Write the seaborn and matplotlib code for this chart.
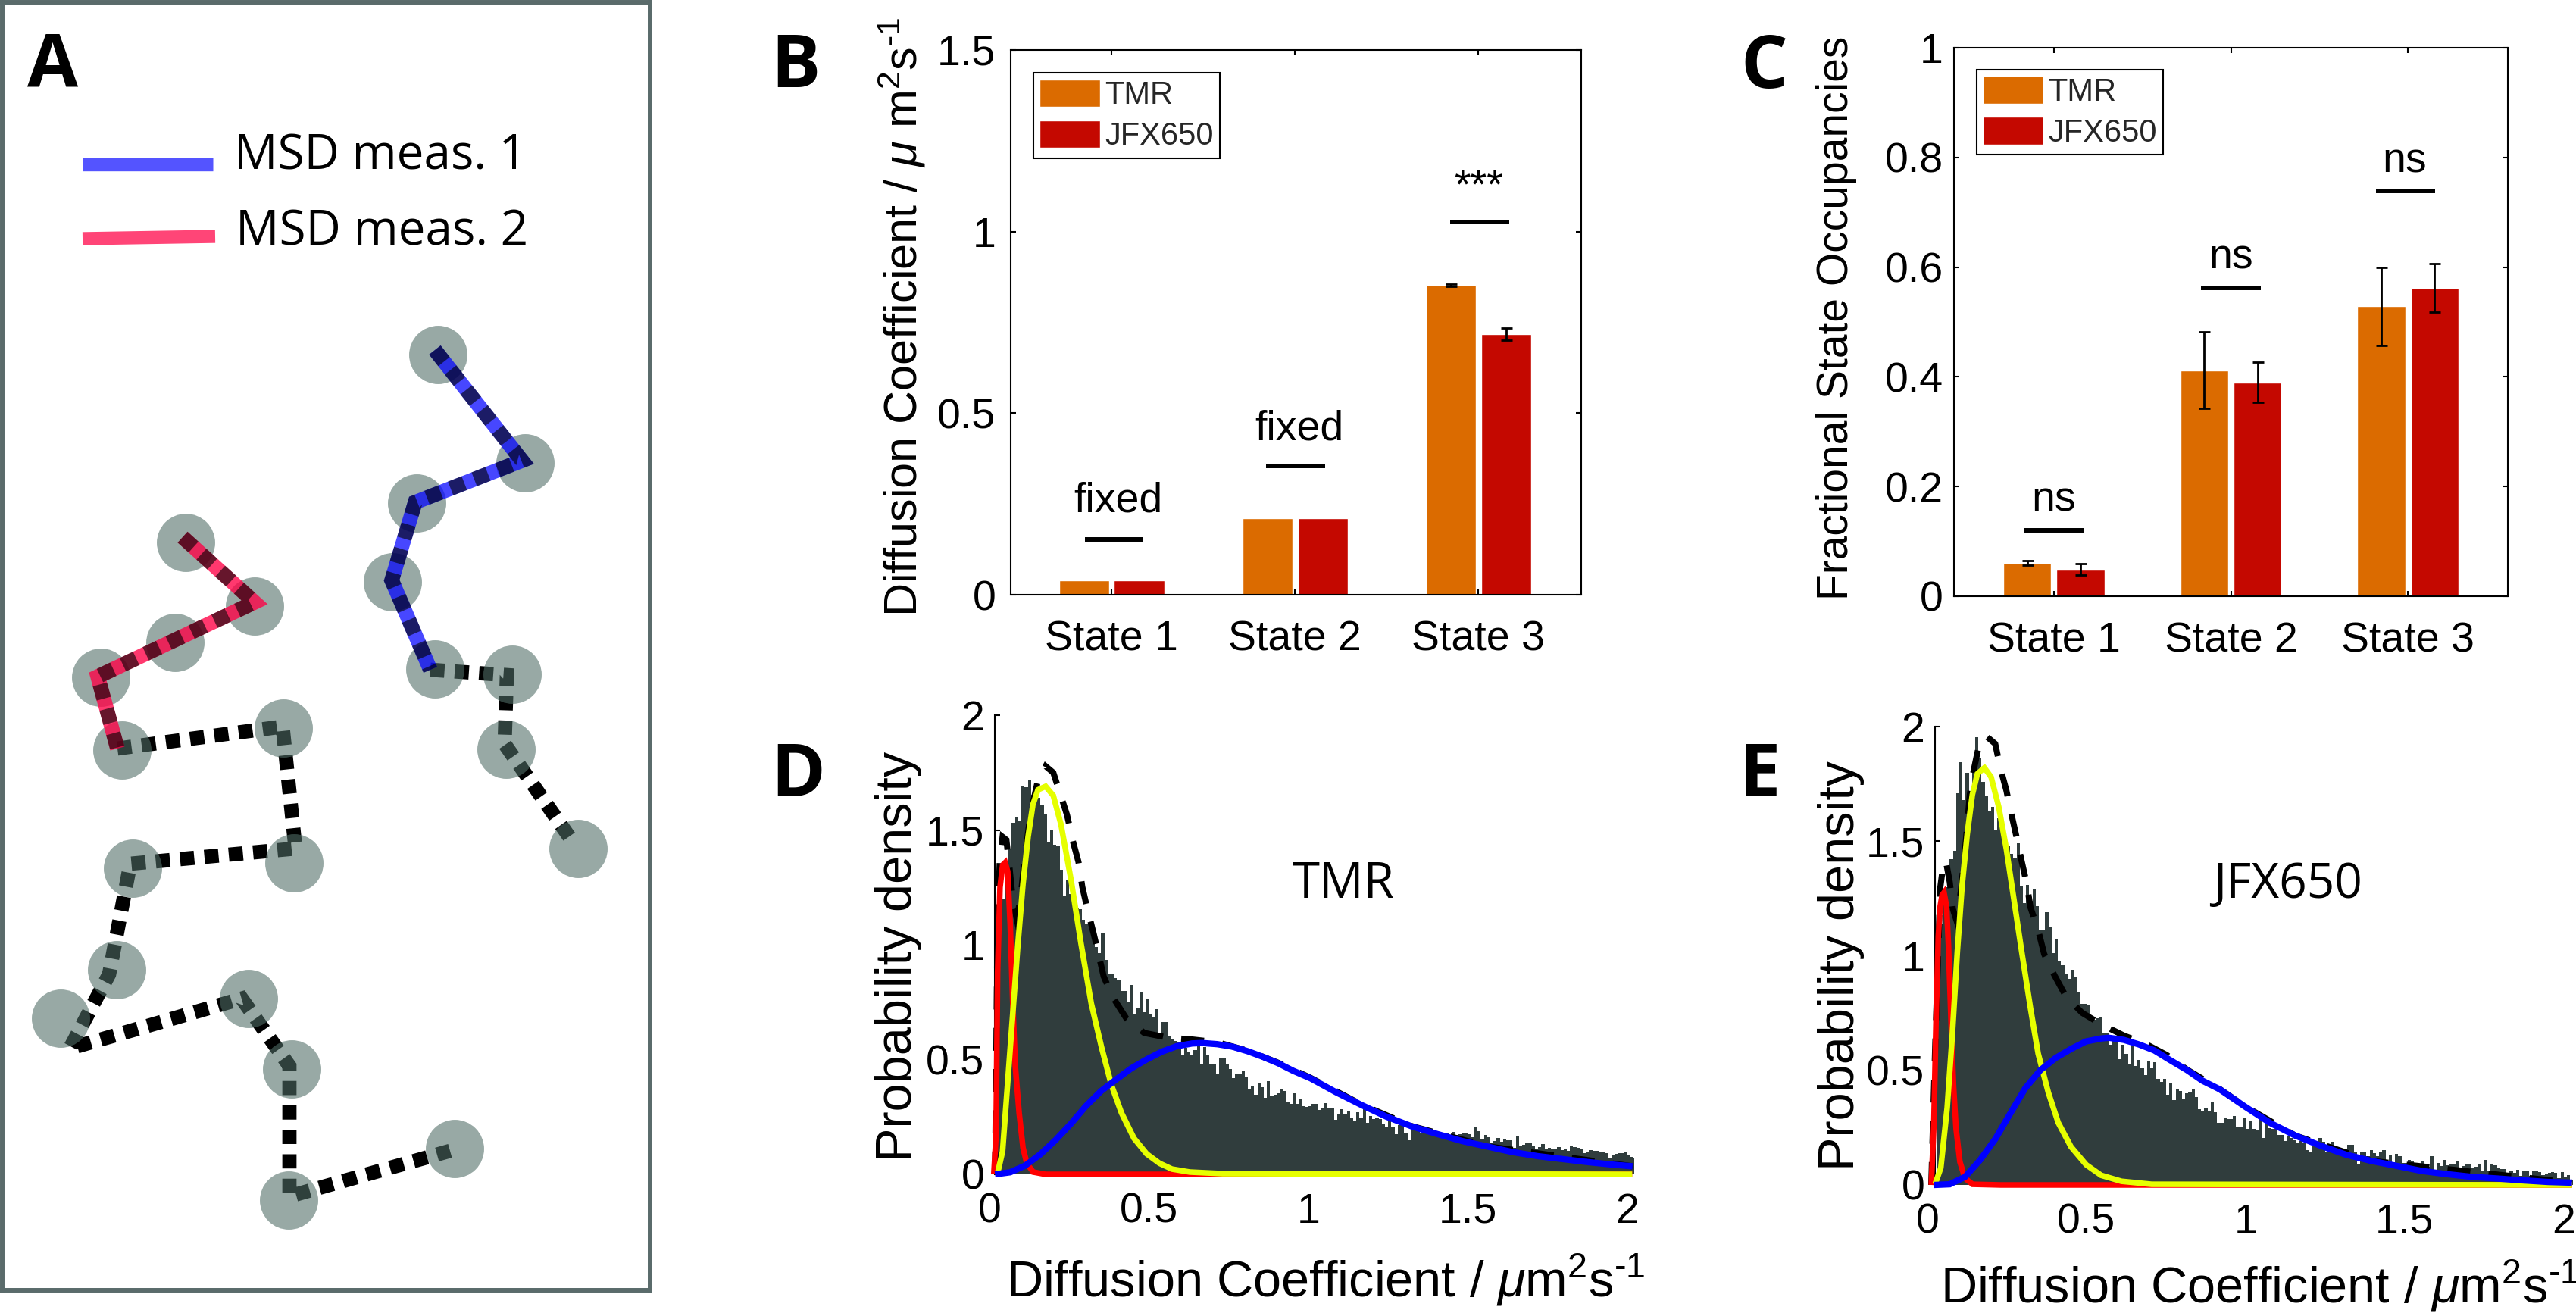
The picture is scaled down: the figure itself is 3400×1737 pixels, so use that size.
import matplotlib
matplotlib.use("Agg")
import matplotlib.pyplot as plt
import seaborn as sns
import numpy as np
import pandas as pd

W, H = 3400, 1737

# panel A, all in image pixels
spot_x = [578, 693, 550, 518, 245, 336, 231, 133, 574, 676, 668, 763, 374, 161, 175, 388, 154, 80, 328, 385, 381, 600]
spot_y = [468, 611, 664, 768, 716, 800, 848, 894, 883, 890, 989, 1120, 961, 990, 1146, 1139, 1280, 1344, 1318, 1411, 1584, 1516]
blue_x = [574, 689, 548, 517, 568]
blue_y = [462, 608, 663, 766, 884]
red_x = [241, 336, 129, 155]
red_y = [709, 795, 893, 988]
track1_x = [568, 669, 666, 758]
track1_y = [884, 891, 982, 1114]
track2_x = [155, 373, 390, 172, 144, 92, 319, 382, 382, 594]
track2_y = [988, 959, 1120, 1140, 1286, 1384, 1318, 1407, 1579, 1519]
key_blue_x = [109, 281]
key_blue_y = [217, 217]
key_red_x = [109, 284]
key_red_y = [315, 312]

# panels B and C
states = ["State 1", "State 2", "State 3"]
dyes = ["TMR", "JFX650"]
diff_tmr = [0.04, 0.21, 0.853]
diff_jfx = [0.04, 0.21, 0.717]
diff_tmr_err = [0, 0, 0.003]
diff_jfx_err = [0, 0, 0.017]
occ_tmr = [0.061, 0.412, 0.5285]
occ_jfx = [0.049, 0.39, 0.562]
occ_tmr_err = [0.004, 0.07, 0.0715]
occ_jfx_err = [0.01, 0.037, 0.044]

# panel D histogram, bins of 0.01
tmr_hist = [
    0, 0, 1.05, 1.15, 1.2, 1.3, 1.42, 1.53, 1.555, 1.54,
    1.69, 1.685, 1.72, 1.655, 1.64, 1.64, 1.61, 1.57, 1.45, 1.5,
    1.435, 1.43, 1.327, 1.21, 1.28, 1.22, 1.2, 1.16, 1.155, 1.11,
    1.09, 1.07, 1.06, .99, .965, 1.05, .935, .875, .87, .855,
    .845, .80, .80, .75, .825, .695, .724, .794, .706, .765,
    .695, .688, .72, .605, .663, .663, .6, .59, .58, .575,
    .52, .55, .53, .52, .54, .57, .48, .555, .517, .478,
    .478, .438, .504, .504, .48, .46, .42, .434, .44, .45,
    .423, .368, .385, .346, .398, .38, .332, .407, .344, .346,
    .354, .372, .363, .316, .308, .352, .308, .33, .297, .294,
    .297, .306, .306, .28, .288, .311, .286, .29, .239, .264,
    .283, .262, .277, .248, .231, .272, .244, .29, .223, .253,
    .24, .246, .242, .22, .207, .242, .207, .174, .215, .215,
    .18, .149, .198, .193, .198, .18, .18, .18, .175, .175,
    .172, .175, .172, .178, .17, .184, .17, .176, .178, .18,
    .174, .163, .204, .189, .154, .17, .162, .138, .145, .16,
    .143, .152, .149, .149, .116, .167, .127, .13, .134, .138,
    .124, .11, .12, .132, .113, .114, .113, .112, .118, .105,
    .11, .101, .124, .12, .116, .11, .094, .097, .105, .102,
    .101, .099, .096, .091, .072, .085, .088, .091, .094, .096,
    .085, .077, .069]
tmr_red_x = [.0135, .0206, .0254, .033, .0412, .0492, .057, .065, .073, .081, .093, .105, .117, .137, .176, 2.015]
tmr_red_y = [0, .17, .88, 1.25, 1.347, 1.358, 1.32, 1.087, .745, .47, .267, .116, .048, .01, 0, 0]
tmr_yel_x = [.0254, .041, .057, .073, .089, .105, .121, .136, .152, .176, .2, .224, .256, .287, .319, .351, .382, .414, .453, .493, .533, .572, .628, .731, 2.015]
tmr_yel_y = [.005, .10, .40, .70, 1.0, 1.265, 1.47, 1.61, 1.675, 1.69, 1.65, 1.525, 1.28, 1.005, .745, .555, .39, .267, .157, .089, .048, .023, .01, .003, 0]
tmr_blu_x = [.0174, .065, .112, .16, .207, .255, .302, .35, .397, .445, .492, .54, .587, .635, .667, .714, .762, .81, .857, .905, .952, 1.007, 1.086, 1.165, 1.245, 1.324, 1.403, 1.482, 1.561, 1.64, 1.72, 1.799, 1.878, 1.957, 2.016]
tmr_blu_y = [0, .009, .038, .088, .149, .22, .297, .363, .413, .462, .50, .534, .558, .57, .572, .567, .556, .536, .512, .484, .451, .418, .358, .303, .251, .209, .176, .145, .121, .097, .079, .066, .053, .042, .035]
tmr_sum_x = [.0174, .0214, .025, .032, .041, .053, .063, .073, .085, .097, .109, .128, .152, .176, .2, .224, .243, .263, .279, .291, .307, .327, .342, .358, .386, .43, .485, .561, .632, .715, .81, .905, 1.007, 1.165, 1.324, 1.561, 2.016]
tmr_sum_y = [0, .54, 1.09, 1.36, 1.47, 1.457, 1.333, 1.197, 1.115, 1.197, 1.36, 1.566, 1.717, 1.778, 1.75, 1.648, 1.566, 1.443, 1.361, 1.252, 1.156, 1.046, .958, .862, .773, .677, .616, .595, .588, .575, .538, .486, .42, .305, .21, .122, .035]

# panel E histogram
jfx_hist = [
    0, 0, 0, .95, 1.14, 1.25, 1.3, 1.42, 1.457, 1.71,
    1.845, 1.68, 1.8, 1.71, 1.84, 1.955, 1.866, 1.76, 1.70, 1.63,
    1.65, 1.55, 1.6, 1.545, 1.51, 1.48, 1.445, 1.425, 1.49, 1.305,
    1.23, 1.31, 1.24, 1.29, 1.216, 1.11, 1.11, 1.19, 1.125, 1.01,
    1.07, .976, .96, .92, .90, .94, .91, .84, .79, .79,
    .787, .72, .72, .727, .73, .665, .66, .61, .64, .62,
    .55, .61, .573, .53, .606, .52, .547, .508, .48, .538,
    .508, .537, .462, .449, .462, .392, .442, .37, .42, .41,
    .374, .40, .405, .42, .383, .33, .32, .333, .32, .36,
    .317, .272, .272, .295, .289, .289, .30, .256, .25, .292,
    .245, .282, .245, .24, .292, .204, .27, .248, .245, .243,
    .218, .217, .193, .21, .205, .195, .185, .193, .182, .152,
    .143, .17, .18, .204, .19, .143, .149, .19, .163, .155,
    .16, .16, .174, .174, .141, .094, .145, .147, .127, .151,
    .138, .125, .141, .152, .101, .129, .099, .135, .127, .097,
    .097, .11, .103, .092, .077, .107, .072, .079, .126, .066,
    .097, .083, .108, .086, .088, .09, .105, .074, .083, .092,
    .088, .077, .079, .094, .061, .11, .061, .09, .085, .077,
    .069, .069, .05, .058, .052, .066, .041, .063, .061, .039,
    .063, .063, .055, .042, .047, .052, .057, .053, .031, .055,
    .035, .044, .022]
jfx_red_x = [.012, .02, .027, .034, .04, .046, .052, .06, .066, .074, .082, .09, .102, .118, .142, .23, 2.026]
jfx_red_y = [0, .26, .72, 1.085, 1.216, 1.265, 1.276, 1.216, 1.046, .718, .43, .245, .101, .029, .003, 0, 0]
jfx_yel_x = [.024, .042, .062, .078, .094, .109, .125, .141, .157, .179, .2, .224, .248, .272, .296, .324, .348, .38, .411, .451, .499, .546, .61, .705, 2.026]
jfx_yel_y = [.003, .075, .337, .652, 1.02, 1.308, 1.531, 1.702, 1.794, 1.82, 1.78, 1.65, 1.466, 1.243, 1.02, .77, .573, .403, .272, .167, .088, .042, .016, .003, 0]
jfx_blu_x = [.021, .07, .118, .165, .213, .26, .308, .355, .403, .451, .498, .546, .57, .617, .665, .713, .76, .816, .864, .919, .998, 1.078, 1.157, 1.236, 1.316, 1.395, 1.475, 1.554, 1.633, 1.713, 1.792, 1.871, 1.951, 2.026]
jfx_blu_y = [0, .003, .035, .108, .2, .311, .423, .501, .554, .593, .626, .639, .642, .633, .613, .587, .547, .501, .455, .417, .342, .27, .215, .171, .132, .105, .083, .061, .047, .035, .028, .02, .013, .01]
jfx_sum_x = [.012, .024, .04, .05, .058, .07, .08, .092, .105, .121, .133, .145, .161, .185, .213, .229, .248, .264, .28, .296, .312, .324, .348, .367, .399, .435, .486, .55, .617, .689, .752, .816, .919, .998, 1.157, 1.395, 2.026]
jfx_sum_y = [0, .587, 1.295, 1.4, 1.413, 1.322, 1.203, 1.151, 1.282, 1.505, 1.702, 1.807, 1.912, 1.958, 1.925, 1.82, 1.722, 1.617, 1.518, 1.413, 1.315, 1.21, 1.112, 1.007, .915, .823, .751, .698, .652, .613, .567, .503, .418, .343, .215, .105, .01]

ORANGE = "#db6b00"
DKRED = "#c40800"
HIST = "#303d3d"
EDGE = "#5a6b6b"

sns.set_theme(style="ticks")
plt.rcParams["font.family"] = ["Liberation Sans", "DejaVu Sans"]
plt.rcParams["mathtext.fontset"] = "custom"
plt.rcParams["mathtext.rm"] = "Liberation Sans"
plt.rcParams["mathtext.it"] = "Liberation Sans:italic"
plt.rcParams["mathtext.bf"] = "Liberation Sans:bold"

fig = plt.figure(figsize=(W / 100, H / 100), dpi=100, facecolor="white")


def px_axes(left, top, right, bottom):
    return fig.add_axes([left / W, 1 - bottom / H, (right - left) / W, (bottom - top) / H])


def fx(x):
    return x / W


def fy(y):
    return 1 - y / H


def draw_line(ax, x, y, color, lw, dash=None, alpha=1, z=3, clip=True):
    sns.lineplot(x=x, y=y, sort=False, estimator=None, color=color, linewidth=lw,
                 alpha=alpha, ax=ax, legend=False)
    line = ax.lines[-1]
    line.set_zorder(z)
    line.set_clip_on(clip)
    if dash is not None:
        line.set_linestyle((0, dash))
        line.set_dash_capstyle("butt")
        line.set_dash_joinstyle("miter")
    else:
        line.set_solid_capstyle("butt")
        line.set_solid_joinstyle("miter")
    return line


def place_labels(ax, ylabel, y_x, y_y, y_size, xlabel=None, x_x=None, x_y=None, x_size=None):
    ax.set_ylabel(ylabel, fontsize=y_size, color="black")
    ax.yaxis.label.set_va("baseline")
    ax.yaxis.set_label_coords(fx(y_x), fy(y_y), transform=fig.transFigure)
    if xlabel is not None:
        ax.set_xlabel(xlabel, fontsize=x_size, color="black")
        ax.xaxis.label.set_va("baseline")
        ax.xaxis.set_label_coords(fx(x_x), fy(x_y), transform=fig.transFigure)
    else:
        ax.set_xlabel("")


# panel A
DASH = (1, 0.72)
ax_a = px_axes(3, 3, 858, 1703)
draw_line(ax_a, track1_x, track1_y, "black", 13.5, dash=DASH, z=1)
draw_line(ax_a, track2_x, track2_y, "black", 13.5, dash=DASH, z=1)
sns.scatterplot(x=spot_x, y=spot_y, s=3070, color="#516e67", alpha=0.59, linewidth=0, ax=ax_a, zorder=2)
draw_line(ax_a, blue_x, blue_y, (0, 0, 1), 14, alpha=0.72, z=3)
draw_line(ax_a, blue_x, blue_y, "black", 14, dash=DASH, alpha=0.6, z=4)
draw_line(ax_a, red_x, red_y, (1, 0, 0.27), 14, alpha=0.78, z=3)
draw_line(ax_a, red_x, red_y, "black", 14, dash=DASH, alpha=0.6, z=4)
draw_line(ax_a, key_blue_x, key_blue_y, (0, 0, 1), 12.5, alpha=0.67)
draw_line(ax_a, key_red_x, key_red_y, (1, 0, 0.27), 12.5, alpha=0.73)
ax_a.set_xlim(3, 858)
ax_a.set_ylim(1703, 3)
ax_a.set_xticks([])
ax_a.set_yticks([])
for s in ax_a.spines.values():
    s.set_color(EDGE)
    s.set_linewidth(4.3)
ax_a.text(309, 223, "MSD meas. 1", fontsize=46, family="Open Sans", color="black", va="baseline")
ax_a.text(311, 323, "MSD meas. 2", fontsize=46, family="Open Sans", color="black", va="baseline")


def bar_panel(ax, tmr, jfx, tmr_err, jfx_err, gap, xlim, yticks, yticklabels, ylim, legend_xy, pad_y):
    df = pd.DataFrame({
        "state": states * 2,
        "dye": [dyes[0]] * 3 + [dyes[1]] * 3,
        "value": list(tmr) + list(jfx),
    })
    sns.barplot(data=df, x="state", y="value", hue="dye", order=states, hue_order=dyes,
                palette=[ORANGE, DKRED], saturation=1, width=0.6, gap=gap, errorbar=None, ax=ax)
    for cont, err in zip(ax.containers, [tmr_err, jfx_err]):
        for bar, e in zip(cont, err):
            if e > 0:
                ax.errorbar(bar.get_x() + bar.get_width() / 2, bar.get_height(), yerr=e, fmt="none",
                            ecolor="black", elinewidth=2, capsize=5.4, capthick=2, zorder=4)
    ax.set_xlim(*xlim)
    ax.set_ylim(*ylim)
    ax.set_yticks(yticks)
    ax.set_yticklabels(yticklabels)
    ax.tick_params(axis="y", direction="in", left=True, right=True, length=5, width=1.5, labelsize=40, pad=pad_y, colors="black")
    ax.tick_params(axis="x", direction="in", bottom=True, top=True, length=5, width=1.5, labelsize=40, pad=24, colors="black")
    for s in ax.spines.values():
        s.set_visible(True)
        s.set_color("black")
        s.set_linewidth(1.5)
    sns.move_legend(ax, "upper left", bbox_to_anchor=legend_xy, title=None, frameon=True,
                    fontsize=30, handlelength=1.92, handleheight=0.98, handletextpad=0.14,
                    labelspacing=0.3, borderpad=0.2, borderaxespad=0, fancybox=False,
                    edgecolor="black", framealpha=1)
    ax.get_legend().get_frame().set_linewidth(1.5)


def mark(ax, x0, x1, y, text, text_x, text_y):
    draw_line(ax, [x0, x1], [y, y], "black", 4.3, z=4)
    ax.text(text_x, text_y, text, fontsize=40, ha="center", va="baseline", color="black")


# panel B
ax_b = px_axes(1334, 66, 2087, 785)
bar_panel(ax_b, diff_tmr, diff_jfx, diff_tmr_err, diff_jfx_err, 0.09, (-0.55, 2.56),
          [0, 0.5, 1, 1.5], ["0", "0.5", "1", "1.5"], (0, 1.5), (0.04, 0.958), 14)
mark(ax_b, -0.145, 0.174, 0.152, "fixed", 0.037, 0.2275)
mark(ax_b, 0.843, 1.165, 0.355, "fixed", 1.025, 0.426)
mark(ax_b, 1.847, 2.169, 1.027, "***", 2.0, 1.093)
place_labels(ax_b, r"Diffusion Coefficient / $\mu$ m$^2$s$^{\text{-}1}$", 1210, 419, 44)

# panel C
ax_c = px_axes(2579, 63, 3310, 787)
bar_panel(ax_c, occ_tmr, occ_jfx, occ_tmr_err, occ_jfx_err, 0.1, (-0.565, 2.565),
          [0, 0.2, 0.4, 0.6, 0.8, 1], ["0", "0.2", "0.4", "0.6", "0.8", "1"], (0, 1), (0.041, 0.96), 10)
mark(ax_c, -0.171, 0.167, 0.12, "ns", 0.0, 0.155)
mark(ax_c, 0.833, 1.167, 0.5625, "ns", 1.0, 0.5975)
mark(ax_c, 1.82, 2.154, 0.7385, "ns", 1.98, 0.773)
place_labels(ax_c, "Fractional State Occupancies", 2439, 420, 41)


def hist_panel(ax, hist, red, yel, blu, total, xlim, spine_x):
    n_bins = len(hist)
    centers = (np.arange(n_bins) + 0.5) * 0.01
    sns.histplot(x=centers, weights=hist, bins=n_bins, binrange=(0, n_bins * 0.01), stat="count",
                 element="step", fill=True, color=HIST, alpha=1, linewidth=0, ax=ax)
    draw_line(ax, total[0], total[1], "black", 5.8, dash=(3.75, 3), z=3, clip=False)
    draw_line(ax, red[0], red[1], "#ff0000", 5.4, z=4, clip=False)
    draw_line(ax, yel[0], yel[1], "#e6ff00", 5.4, z=5, clip=False)
    draw_line(ax, blu[0], blu[1], "#0000ff", 6, z=6, clip=False)
    ax.set_xlim(*xlim)
    ax.set_ylim(0, 2)
    ax.set_xticks([0, 0.5, 1, 1.5, 2])
    ax.set_xticklabels(["0", "0.5", "1", "1.5", "2"])
    ax.set_yticks([0, 0.5, 1, 1.5, 2])
    ax.set_yticklabels(["0", "0.5", "1", "1.5", "2"])
    ax.tick_params(axis="y", direction="in", length=5, width=1.5, labelsize=40, pad=10, colors="black")
    ax.tick_params(axis="x", length=0, labelsize=40, pad=17, colors="black")
    for name in ["top", "right", "bottom"]:
        ax.spines[name].set_visible(False)
    ax.spines["left"].set_position(("data", spine_x))
    ax.spines["left"].set_bounds(0, 2)
    ax.spines["left"].set_color("black")
    ax.spines["left"].set_linewidth(1.5)
    ax.patch.set_alpha(0)


# panel D
ax_d = px_axes(1306, 944, 2156, 1550)
hist_panel(ax_d, tmr_hist, (tmr_red_x, tmr_red_y), (tmr_yel_x, tmr_yel_y), (tmr_blu_x, tmr_blu_y),
           (tmr_sum_x, tmr_sum_y), (0, 2.019), 0.017)
place_labels(ax_d, "Probability density", 1203, 1262, 48,
             r"Diffusion Coefficient / $\mu$m$^2$s$^{\text{-}1}$", 1750, 1711, 48)

# panel E
ax_e = px_axes(2544, 959, 3396, 1564)
hist_panel(ax_e, jfx_hist, (jfx_red_x, jfx_red_y), (jfx_yel_x, jfx_yel_y), (jfx_blu_x, jfx_blu_y),
           (jfx_sum_x, jfx_sum_y), (0, 2.029), 0.024)
place_labels(ax_e, "Probability density", 2447, 1274, 48,
             r"Diffusion Coefficient / $\mu$m$^2$s$^{\text{-}1}$", 2983, 1720, 48)

# free text on the figure
fig.text(fx(1773), fy(1185), "TMR", fontsize=47, family="Open Sans", ha="center", va="baseline", color="black")
fig.text(fx(3020), fy(1185), "JFX650", fontsize=46, family="Open Sans", ha="center", va="baseline", color="black")
for letter, x, y in [("A", 70, 115), ("B", 1050, 115), ("C", 2328, 116), ("D", 1053, 1051), ("E", 2322, 1051)]:
    fig.text(fx(x), fy(y), letter, fontsize=70, family="Open Sans", weight="bold", ha="center", va="baseline", color="black")

fig.savefig("out.png", dpi=100)
